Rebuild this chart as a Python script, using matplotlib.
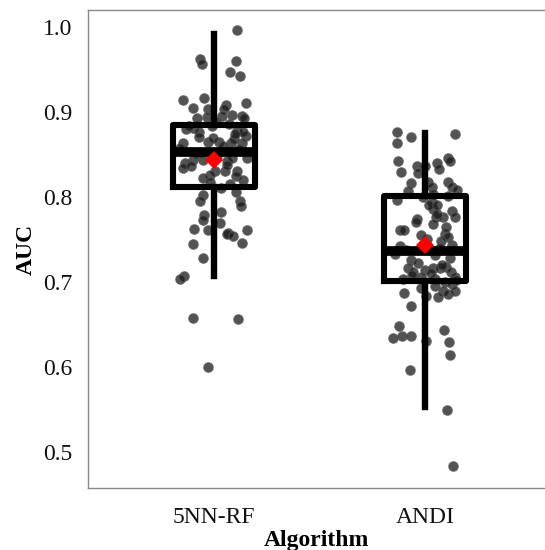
import matplotlib
matplotlib.use("Agg")
import matplotlib.pyplot as plt

categories = ["5NN-RF", "ANDI"]

# box statistics
q1 = [0.812, 0.701]
med = [0.853, 0.736]
q3 = [0.885, 0.801]
whislo = [0.707, 0.553]
whishi = [0.992, 0.875]
means = [0.843, 0.743]

# individual AUC values and their horizontal jitter
rf_auc = [0.996, 0.962, 0.957, 0.960, 0.947, 0.942, 0.914, 0.917, 0.905, 0.911,
          0.903, 0.908, 0.903, 0.897, 0.895, 0.895, 0.893, 0.894, 0.893,
          0.880, 0.881, 0.877, 0.883, 0.878, 0.872, 0.871, 0.863, 0.865, 0.863,
          0.863, 0.865, 0.844, 0.840, 0.834, 0.844, 0.842, 0.846, 0.846, 0.830,
          0.825, 0.830, 0.826, 0.822, 0.830, 0.810, 0.806, 0.802, 0.795, 0.795,
          0.789, 0.779, 0.773, 0.782, 0.769, 0.762, 0.761, 0.758, 0.761,
          0.757, 0.754, 0.745, 0.746, 0.728, 0.707, 0.704, 0.658, 0.657, 0.600,
          0.888, 0.886, 0.884, 0.876, 0.870, 0.868, 0.858, 0.856, 0.850, 0.848,
          0.838, 0.836, 0.820, 0.818, 0.815, 0.860, 0.852, 0.874]
rf_jit = [0.108, -0.066, -0.055, 0.104, 0.077, 0.125, -0.147, -0.046, -0.101, 0.150,
          -0.027, 0.058, 0.049, 0.084, 0.038, 0.133, -0.081, -0.035, 0.145,
          -0.133, -0.098, -0.070, -0.011, 0.110, 0.152, -0.071, -0.148, -0.030, 0.081,
          0.131, 0.025, -0.098, -0.137, -0.145, -0.054, 0.060, 0.084, 0.158, 0.110,
          0.107, 0.005, -0.019, -0.051, 0.052, 0.036, 0.104, -0.051, -0.066, 0.123,
          0.127, -0.046, -0.054, 0.033, 0.028, -0.093, -0.030, 0.068, 0.158,
          0.063, 0.092, -0.101, 0.131, -0.051, -0.142, -0.161, -0.098, 0.115, -0.027,
          0.010, 0.070, -0.120, 0.140, -0.005, 0.095, -0.160, 0.120, -0.080, 0.015,
          0.060, -0.110, 0.140, -0.020, 0.075, 0.045, -0.060, 0.100]

andi_auc = [0.876, 0.863, 0.871, 0.874, 0.842, 0.829, 0.836, 0.828, 0.836, 0.840,
            0.833, 0.846, 0.842, 0.817, 0.818, 0.818, 0.807, 0.812, 0.812, 0.808,
            0.796, 0.800, 0.804, 0.801, 0.794, 0.786, 0.784, 0.777, 0.777, 0.776,
            0.774,
            0.761, 0.761, 0.757, 0.753, 0.748, 0.744, 0.742, 0.726, 0.716, 0.712,
            0.714, 0.716, 0.716, 0.718, 0.712, 0.706, 0.704, 0.706, 0.704, 0.700,
            0.698, 0.693, 0.695, 0.689, 0.686, 0.689, 0.687, 0.682, 0.672, 0.683,
            0.648, 0.634, 0.636, 0.636, 0.644, 0.631, 0.629, 0.614, 0.596, 0.549,
            0.483,
            0.790, 0.780, 0.770, 0.765, 0.750, 0.738, 0.732, 0.728, 0.722, 0.720,
            0.710, 0.708, 0.702, 0.740, 0.755, 0.768, 0.791, 0.733]
andi_jit = [-0.134, -0.134, -0.066, 0.142, -0.127, -0.114, -0.039, -0.032, 0.000, 0.060,
            0.066, 0.108, 0.118, -0.063, 0.016, 0.110, -0.079, 0.032, 0.129, 0.155,
            -0.134, -0.008, 0.039, 0.108, 0.032, 0.039, 0.129, 0.051, 0.087, 0.142,
            -0.035,
            -0.118, -0.098, 0.095, 0.110, 0.079, 0.129, -0.118, -0.063, -0.079, -0.055,
            0.000, 0.039, 0.071, 0.103, 0.126, 0.142, -0.103, -0.016, 0.047, 0.095,
            0.129, -0.016, 0.047, 0.087, 0.110, 0.142, -0.098, 0.063, -0.063, 0.008,
            -0.120, -0.150, -0.110, -0.066, 0.092, 0.008, 0.114, 0.118, -0.070, 0.104,
            0.134,
            0.020, 0.060, -0.040, 0.100, 0.010, -0.090, 0.050, 0.120, -0.030, 0.080,
            0.030, -0.060, 0.150, 0.070, -0.020, 0.040, 0.060, -0.140]

values = [rf_auc, andi_auc]
jitters = [rf_jit, andi_jit]

plt.rcParams['font.family'] = ['Liberation Serif', 'DejaVu Serif']

fig = plt.figure(figsize=(5.45, 5.5), dpi=100)
ax = fig.add_axes([0.1615, 0.1127, 0.8365, 0.8691])

positions = list(range(len(categories)))

for i in positions:
    xs = [positions[i] + j for j in jitters[i]]
    ax.scatter(xs, values[i], s=46, color='#1a1a1a', alpha=0.75,
               edgecolors='#555555', linewidths=0.9, zorder=2)

stats = []
for i in positions:
    stats.append(dict(q1=q1[i], med=med[i], q3=q3[i], whislo=whislo[i],
                      whishi=whishi[i], mean=means[i], label=categories[i]))

ax.bxp(stats, positions=positions, widths=0.39, showmeans=False, showfliers=False,
       showcaps=False, manage_ticks=False,
       boxprops=dict(color='black', linewidth=4.4, zorder=3, solid_joinstyle='round'),
       whiskerprops=dict(color='black', linewidth=4.6, zorder=3),
       medianprops=dict(color='black', linewidth=7.0, zorder=3, solid_capstyle='butt'))

ax.plot(positions, means, linestyle='none', marker='D', markersize=9,
        color='#ff0000', markeredgewidth=0, zorder=5)

ax.set_xlim(-0.597, 1.565)
ax.set_ylim(0.4576, 1.02)
ax.set_xticks(positions)
ax.set_xticklabels(categories)
ax.set_yticks([0.5, 0.6, 0.7, 0.8, 0.9, 1.0])
ax.set_yticklabels(["0.5", "0.6", "0.7", "0.8", "0.9", "1.0"])
ax.tick_params(axis='both', length=0, labelsize=17, colors='#111111')
ax.tick_params(axis='y', pad=11)
ax.tick_params(axis='x', pad=14)

for sp in ax.spines.values():
    sp.set_color('#888888')
    sp.set_linewidth(1.0)
ax.spines['right'].set_visible(False)

ax.set_xlabel("Algorithm", fontsize=17, fontweight='bold', labelpad=1)
ax.set_ylabel("AUC", fontsize=17, fontweight='bold', labelpad=5)

fig.savefig("out.png", dpi=100)
